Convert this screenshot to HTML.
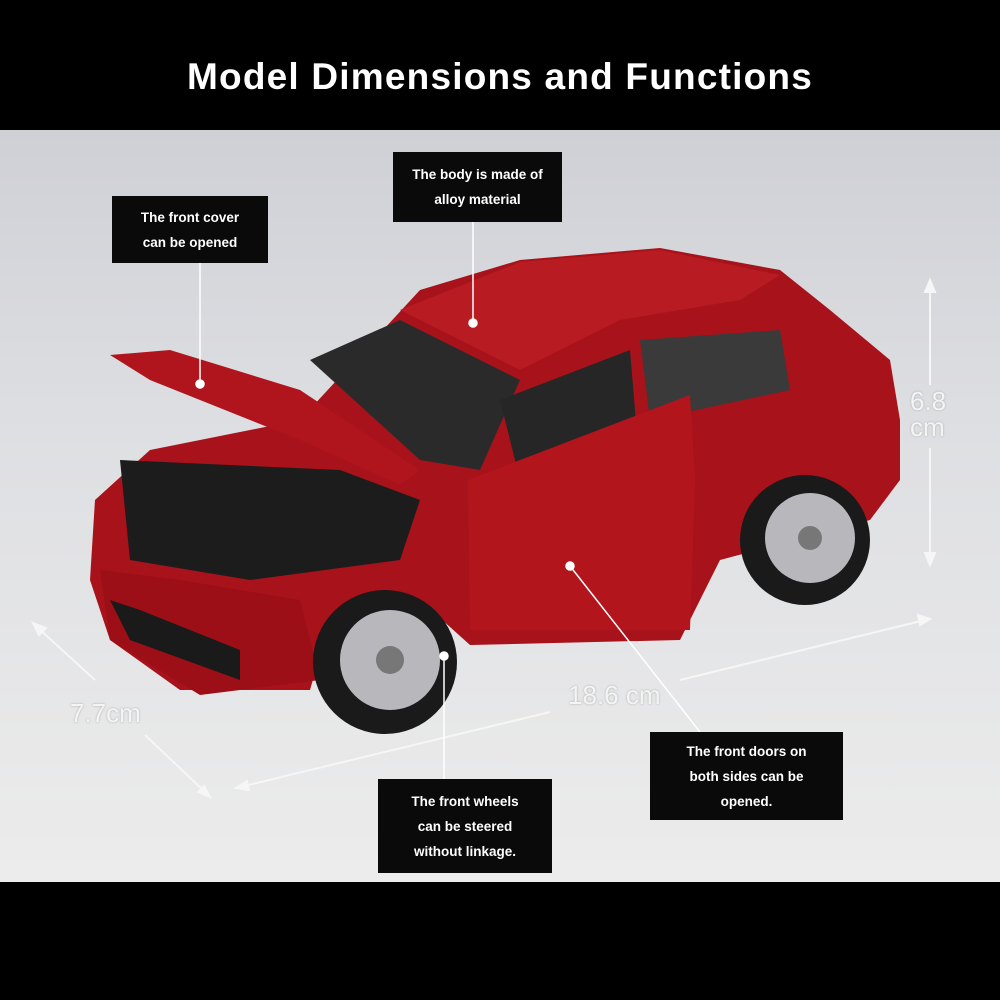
<!DOCTYPE html>
<html><head><meta charset="utf-8"><style>
html,body{margin:0;padding:0;width:1000px;height:1000px;overflow:hidden;background:#000;font-family:"Liberation Sans",sans-serif}
.top{position:absolute;left:0;top:0;width:1000px;height:130px;background:#000}
.title{position:absolute;top:56px;width:1000px;text-align:center;color:#fff;font-weight:bold;font-size:37px;letter-spacing:1.2px}
.mid{position:absolute;left:0;top:130px;width:1000px;height:752px;background:linear-gradient(180deg,#cfd0d6 0%,#dedfe2 40%,#ececec 100%)}
.box{position:absolute;background:#0a0a0a;color:#fff;font-weight:bold;font-size:13.5px;text-align:center;line-height:25px;display:flex;align-items:center;justify-content:center}
.dim{position:absolute;color:#f4f4f4;font-size:26px;text-shadow:0 0 2px #aaa}
</style></head><body>
<div class="top"><div class="title">Model Dimensions and Functions</div></div>
<div class="mid"></div>
<svg style="position:absolute;left:0;top:0" width="1000" height="1000">
<g stroke="#f6f6f6" stroke-width="2" fill="#f6f6f6">
<line x1="930" y1="285" x2="930" y2="385"/><polygon points="930,280 925,292 935,292"/>
<line x1="930" y1="448" x2="930" y2="560"/><polygon points="930,565 925,553 935,553"/>
<line x1="38" y1="628" x2="95" y2="680"/><polygon points="33,623 46,628 39,635"/>
<line x1="145" y1="735" x2="205" y2="792"/><polygon points="210,797 198,792 204,786"/>
<line x1="240" y1="787" x2="550" y2="712"/><polygon points="236,788 247,781 249,790"/>
<line x1="680" y1="680" x2="925" y2="620"/><polygon points="930,619 918,615 920,625"/>
</g>
<g>
<path d="M95,500 L150,450 L300,420 L420,290 L520,260 L660,248 L780,270 L830,310 L890,360 L900,420 L900,480 L870,520 L720,560 L680,640 L470,645 L420,600 L330,620 L310,690 L180,690 L110,640 L90,580 Z" fill="#a8121a"/>
<path d="M400,310 L520,262 L660,250 L780,275 L740,300 L620,320 L520,370 Z" fill="#b81b22"/>
<path d="M110,355 L170,350 L300,390 L420,470 L400,485 L300,440 L150,380 Z" fill="#b0141c"/>
<path d="M120,460 L340,470 L420,500 L400,560 L250,580 L130,560 Z" fill="#1c1c1c"/>
<path d="M310,360 L400,320 L520,380 L480,470 L420,460 Z" fill="#2a2a2a"/>
<path d="M640,340 L780,330 L790,390 L650,420 Z" fill="#3a3a3a"/>
<path d="M500,400 L630,350 L640,470 L520,480 Z" fill="#262626"/>
<path d="M468,480 L690,395 L695,480 L690,630 L470,630 Z" fill="#b3151d"/>
<path d="M100,570 L180,580 L300,600 L320,680 L200,695 L110,640 Z" fill="#9c0f17"/>
<path d="M110,600 L130,640 L240,680 L240,650 L140,610 Z" fill="#1a1a1a"/>
<circle cx="385" cy="662" r="72" fill="#1a1a1a"/><circle cx="390" cy="660" r="50" fill="#b8b8bc"/><circle cx="390" cy="660" r="14" fill="#777"/>
<circle cx="805" cy="540" r="65" fill="#1a1a1a"/><circle cx="810" cy="538" r="45" fill="#b8b8bc"/><circle cx="810" cy="538" r="12" fill="#777"/>
</g>
<g stroke="#fff" stroke-width="1.5" fill="#fff">
<line x1="200" y1="262" x2="200" y2="383"/><circle cx="200" cy="384" r="4"/>
<line x1="473" y1="222" x2="473" y2="322"/><circle cx="473" cy="323" r="4"/>
<line x1="570" y1="566" x2="700" y2="732"/><circle cx="570" cy="566" r="4"/>
<line x1="444" y1="656" x2="444" y2="779"/><circle cx="444" cy="656" r="4"/>
</g>
</svg>
<div class="dim" style="left:910px;top:388px;line-height:26px">6.8<br>cm</div>
<div class="dim" style="left:70px;top:698px">7.7cm</div>
<div class="dim" style="left:568px;top:680px">18.6 cm</div>
<div class="box" style="left:112px;top:196px;width:156px;height:67px">The front cover<br>can be opened</div>
<div class="box" style="left:393px;top:152px;width:169px;height:70px">The body is made of<br>alloy material</div>
<div class="box" style="left:650px;top:732px;width:193px;height:88px">The front doors on<br>both sides can be<br>opened.</div>
<div class="box" style="left:378px;top:779px;width:174px;height:94px">The front wheels<br>can be steered<br>without linkage.</div>
<div style="position:absolute;left:0;top:882px;width:1000px;height:118px;background:#000"></div>
</body></html>
